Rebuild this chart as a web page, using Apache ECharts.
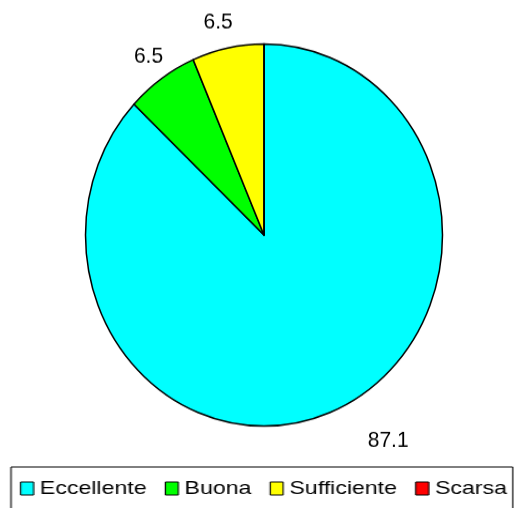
<!DOCTYPE html>
<html>
<head>
<meta charset="utf-8">
<script src="https://cdn.jsdelivr.net/npm/echarts@6/dist/echarts.min.js"></script>
<style>
html,body{margin:0;padding:0;background:#fff;}
#wrap{position:relative;width:521px;height:508px;overflow:hidden;}
#pie{position:absolute;left:0;top:0;width:521px;height:508px;transform:scaleY(1.07);transform-origin:0 235px;}
#leg{position:absolute;left:0;top:0;width:521px;height:508px;transform:scaleX(1.25);transform-origin:11px 0;}
</style>
</head>
<body>
<div id="wrap"><div id="pie"></div><div id="leg"></div></div>
<script>
const categories = ['Eccellente', 'Buona', 'Sufficiente', 'Scarsa'];
const values = [87.1, 6.5, 6.5, 0];
const palette = ['#00FFFF', '#00FF00', '#FFFF00', '#FF0000'];
// small label nudges (dx, dy) in px, styling only
const labelNudge = [[18, 6], [21, 0], [15, 0], [0, 0]];

const font = 'Arial, "Liberation Sans", sans-serif';

function buildData(withLabels) {
  return categories.map((name, i) => ({
    name: name,
    value: values[i],
    itemStyle: { color: palette[i] },
    label: { show: withLabels && values[i] > 0 }
  }));
}

const pie = echarts.init(document.getElementById('pie'), null, { renderer: 'canvas' });
pie.setOption({
  animation: false,
  backgroundColor: 'transparent',
  series: [{
    type: 'pie',
    center: [264, 235],
    radius: 178.5,
    startAngle: 90,
    clockwise: true,
    avoidLabelOverlap: false,
    silent: true,
    itemStyle: { borderColor: '#000', borderWidth: 1.5 },
    label: {
      position: 'outside',
      formatter: '{c}',
      color: '#000',
      fontSize: 21,
      fontFamily: font
    },
    labelLine: { show: false, length: 25, length2: 0 },
    labelLayout: function (p) {
      const n = labelNudge[p.dataIndex] || [0, 0];
      return { dx: n[0], dy: n[1] / 1.07 };
    },
    data: buildData(true)
  }]
});

const leg = echarts.init(document.getElementById('leg'), null, { renderer: 'canvas' });
leg.setOption({
  animation: false,
  backgroundColor: 'transparent',
  legend: {
    data: categories,
    left: 11,
    top: 467,
    orient: 'horizontal',
    icon: 'rect',
    itemWidth: 10.4,
    itemHeight: 13,
    itemGap: 14.5,
    borderColor: '#000',
    borderWidth: 1,
    padding: [12, 4.6, 22, 7.2],
    selectedMode: false,
    itemStyle: { borderColor: '#000', borderWidth: 1 },
    textStyle: { color: '#000', fontSize: 18.5, fontFamily: font }
  },
  series: [{
    type: 'pie',
    center: [-500, -500],
    radius: 1,
    label: { show: false },
    labelLine: { show: false },
    data: buildData(false)
  }]
});
</script>
</body>
</html>
